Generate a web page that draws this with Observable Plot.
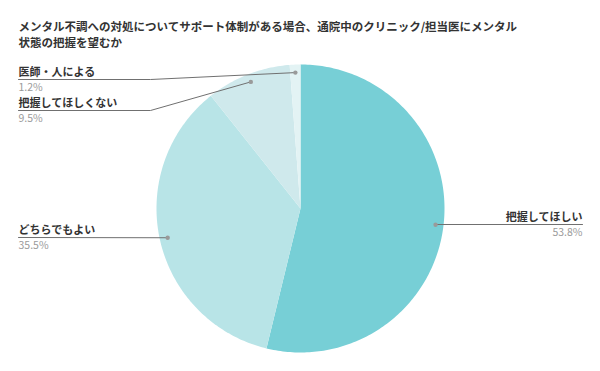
<!DOCTYPE html>
<html><head><meta charset="utf-8">
<script src="https://cdn.jsdelivr.net/npm/d3@7"></script>
<script src="https://cdn.jsdelivr.net/npm/@observablehq/plot@0.6"></script>
<style>
html,body{margin:0;padding:0;background:#fff;}
body{font-family:"Noto Sans CJK JP","Noto Sans",sans-serif;}
</style></head>
<body><div id="chart"></div>
<script>
const title = ["メンタル不調への対処についてサポート体制がある場合、通院中のクリニック/担当医にメンタル", "状態の把握を望むか"];
const categories = ["把握してほしい", "どちらでもよい", "把握してほしくない", "医師・人による"];
const values = [53.8, 35.5, 9.5, 1.2];
const colors = ["#77CFD6", "#B8E4E7", "#CFE9EC", "#E3F3F4"];

// layout
const W = 600, H = 371;
const cx = 300, cy = 208, R = 144, rDot = 136;
const labelLayout = [
  {side: "right", y: 224},
  {side: "left", y: 237},
  {side: "left", y: 110, elbow: 150},
  {side: "left", y: 79, elbow: 150}
];
const leftX = 18, rightX = 582;

const pie = d3.pie().sort(null).value(d => d)(values);
const slices = [];
pie.forEach((p, i) => {
  const n = Math.max(8, Math.ceil((p.endAngle - p.startAngle) * 60));
  slices.push({k: i, x: cx, y: cy});
  for (let j = 0; j <= n; j++) {
    const a = p.startAngle + (p.endAngle - p.startAngle) * j / n;
    slices.push({k: i, x: cx + R * Math.sin(a), y: cy - R * Math.cos(a)});
  }
  slices.push({k: i, x: cx, y: cy});
});

const dots = pie.map((p, i) => {
  const a = (p.startAngle + p.endAngle) / 2;
  return {k: i, x: cx + rDot * Math.sin(a), y: cy - rDot * Math.cos(a)};
});

const leaders = [];
dots.forEach((d, i) => {
  const L = labelLayout[i];
  if (L.side === "right") {
    leaders.push({k: i, x: d.x, y: L.y}, {k: i, x: rightX, y: L.y});
  } else if (L.elbow) {
    leaders.push({k: i, x: leftX, y: L.y}, {k: i, x: L.elbow, y: L.y}, {k: i, x: d.x, y: d.y});
  } else {
    leaders.push({k: i, x: leftX, y: L.y}, {k: i, x: d.x, y: d.y});
  }
});

const labels = categories.map((c, i) => {
  const L = labelLayout[i];
  return {name: c, pct: values[i].toFixed(1) + "%", side: L.side, x: L.side === "right" ? rightX : leftX, y: L.y};
});
const leftLabels = labels.filter(d => d.side === "left");
const rightLabels = labels.filter(d => d.side === "right");
const titleRows = title.map((t, i) => ({t, i}));

const font = '"Noto Sans CJK JP","Noto Sans",sans-serif';
const nameOpts = {fontSize: 11, fontWeight: "bold", fill: "#333", ariaLabel: "lab"};
const pctOpts = {fontSize: 10.5, fontWeight: "normal", fill: "#9a9a9a"};

const chart = Plot.plot({
  width: W, height: H,
  margin: 0,
  x: {type: "identity", axis: null},
  y: {type: "identity", axis: null},
  style: {fontFamily: font, background: "#fff"},
  marks: [
    Plot.line(slices, {x: "x", y: "y", z: "k", fill: d => colors[d.k], stroke: "none", curve: "linear"}),
    Plot.line(leaders, {x: "x", y: "y", z: "k", stroke: "#707070", strokeWidth: 1}),
    Plot.dot(dots, {x: "x", y: "y", r: 2.2, fill: "#9a9a9a", stroke: "none"}),
    Plot.text(leftLabels, {x: "x", y: d => d.y - 7.5, text: "name", textAnchor: "start", ...nameOpts}),
    Plot.text(leftLabels, {x: "x", y: d => d.y + 8.5, text: "pct", textAnchor: "start", ...pctOpts}),
    Plot.text(rightLabels, {x: "x", y: d => d.y - 7.5, text: "name", textAnchor: "end", ...nameOpts}),
    Plot.text(rightLabels, {x: "x", y: d => d.y + 8.5, text: "pct", textAnchor: "end", ...pctOpts}),
    Plot.text(titleRows, {x: leftX, y: d => 27 + d.i * 16, text: "t", textAnchor: "start", fontSize: 11.5, fontWeight: "bold", fill: "#333", ariaLabel: "title"})
  ]
});
d3.select(chart).selectAll('g[aria-label="title"] text').style("letter-spacing", "-0.8px");
d3.select(chart).selectAll('g[aria-label="lab"] text').style("letter-spacing", "-0.2px");
document.getElementById("chart").appendChild(chart);
</script></body></html>
